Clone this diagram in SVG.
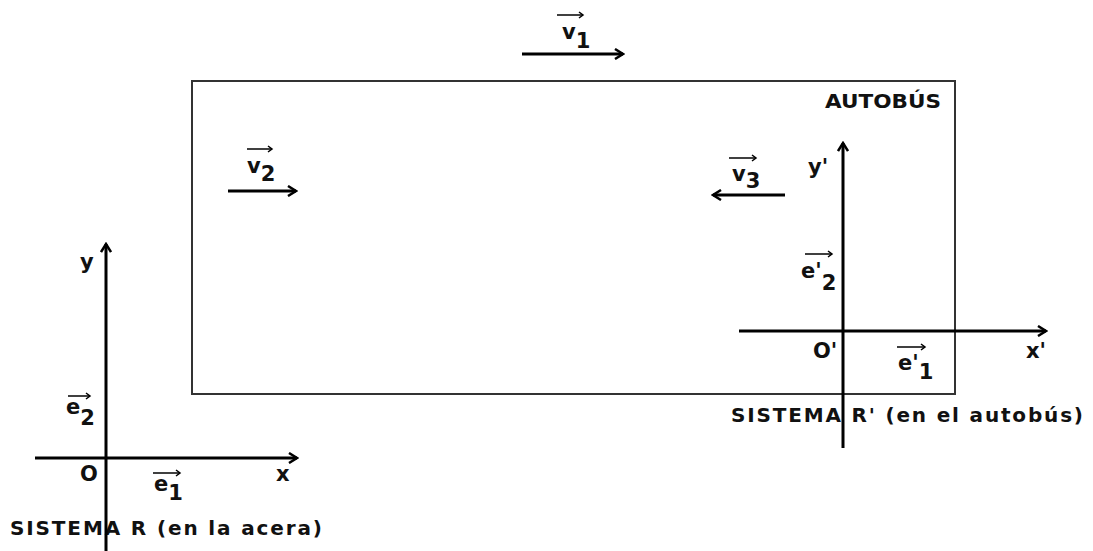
<svg xmlns="http://www.w3.org/2000/svg" width="1093" height="551" viewBox="0 0 1093 551">
  <defs>
    <marker id="ah" viewBox="-10 -6 12 12" markerWidth="12" markerHeight="12" refX="0" refY="0" orient="auto" markerUnits="userSpaceOnUse">
      <path d="M-8,-5 L0,0 L-8,5" fill="none" stroke="#000" stroke-width="2.5" stroke-linejoin="miter"/>
    </marker>
    <marker id="sh" viewBox="-6 -4 8 8" markerWidth="8" markerHeight="8" refX="0" refY="0" orient="auto" markerUnits="userSpaceOnUse">
      <path d="M-4,-3 L0,0 L-4,3" fill="none" stroke="#000" stroke-width="1.5"/>
    </marker>
  </defs>
  <style>
    .t { font-family: "DejaVu Sans", Verdana, sans-serif; font-weight: bold; fill: #111; }
    .lbl { font-size: 21px; }
    .sys { font-size: 20px; }
    .axis { stroke: #000; stroke-width: 3; fill: none; marker-end: url(#ah); }
    .vec { stroke: #000; stroke-width: 3; fill: none; marker-end: url(#ah); }
    .over { stroke: #000; stroke-width: 1.5; fill: none; marker-end: url(#sh); }
  </style>
  <rect width="1093" height="551" fill="#fff"/>

  <g id="bus">
    <rect x="192" y="81" width="763" height="313" fill="none" stroke="#333" stroke-width="2"/>
    <text class="t" x="825" y="108" font-size="19" textLength="116" lengthAdjust="spacingAndGlyphs">AUTOBÚS</text>
  </g>

  <g id="labels-v">
    <g id="v1">
      <line class="over" x1="557" y1="15" x2="583" y2="15"/>
      <text class="t lbl" x="562" y="39">v<tspan dy="9">1</tspan></text>
    </g>
    <g id="v2">
      <line class="over" x1="247" y1="149" x2="272" y2="149"/>
      <text class="t lbl" x="247" y="173">v<tspan dy="8">2</tspan></text>
    </g>
    <g id="v3">
      <line class="over" x1="729" y1="158" x2="756" y2="158"/>
      <text class="t lbl" x="732" y="181">v<tspan dy="7">3</tspan></text>
    </g>
  </g>

  <g id="system-R">
    <text class="t sys" x="10" y="535" textLength="312" lengthAdjust="spacing">SISTEMA R (en la acera)</text>
    <text class="t lbl" x="80" y="269">y</text>
    <text class="t lbl" x="276" y="481">x</text>
    <text class="t lbl" x="80" y="481">O</text>
    <line class="over" x1="68" y1="396" x2="90" y2="396"/>
    <text class="t lbl" x="66" y="414">e<tspan dy="11">2</tspan></text>
    <line class="over" x1="153" y1="473" x2="180" y2="473"/>
    <text class="t lbl" x="154" y="491">e<tspan dy="9">1</tspan></text>
  </g>

  <g id="system-Rp">
    <text class="t sys" x="731" y="422" textLength="352" lengthAdjust="spacing">SISTEMA R' (en el autobús)</text>
    <text class="t lbl" x="808" y="174">y'</text>
    <text class="t lbl" x="1026" y="358">x'</text>
    <text class="t lbl" x="813" y="358">O'</text>
    <line class="over" x1="805" y1="254" x2="832" y2="254"/>
    <text class="t lbl" x="801" y="278">e'<tspan dy="12">2</tspan></text>
    <line class="over" x1="897" y1="347" x2="925" y2="347"/>
    <text class="t lbl" x="898" y="370">e'<tspan dy="9">1</tspan></text>
  </g>

  <g id="connectors">
    <line class="vec" x1="522" y1="54" x2="623" y2="54"/>
    <line class="vec" x1="228" y1="191" x2="296" y2="191"/>
    <line class="vec" x1="785" y1="195" x2="713" y2="195"/>
    <line class="axis" x1="106" y1="551" x2="106" y2="244"/>
    <line class="axis" x1="35" y1="458" x2="297" y2="458"/>
    <line class="axis" x1="843" y1="448" x2="843" y2="143"/>
    <line class="axis" x1="739" y1="331" x2="1046" y2="331"/>
  </g>
</svg>
